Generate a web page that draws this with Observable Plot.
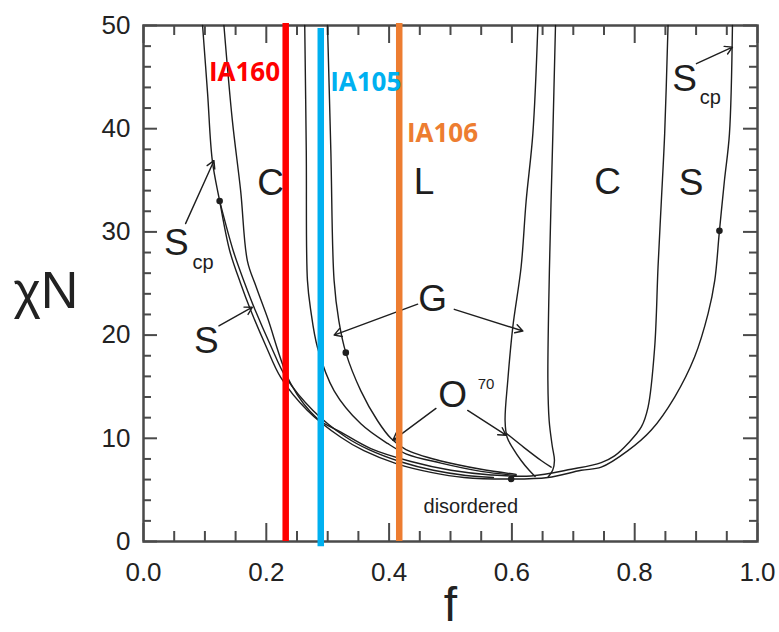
<!DOCTYPE html>
<html><head><meta charset="utf-8">
<script src="https://cdn.jsdelivr.net/npm/d3@7"></script>
<script src="https://cdn.jsdelivr.net/npm/@observablehq/plot@0.6"></script>
<style>body{margin:0;background:#fff} #chart svg{display:block}</style>
</head><body><div id="chart"></div>
<script>
// Phase boundaries, [f, chiN]
const odt = [[0.0962,50],[0.1044,43.4],[0.1121,36.9],[0.124,33.0],[0.1403,28.2],[0.1582,25.0],[0.1746,22.4],[0.199,19.0],[0.2235,15.9],[0.267,12.7],[0.3214,10.1],[0.3589,8.8],[0.4139,7.5],[0.4682,6.7],[0.522,6.2],[0.5987,6.05],[0.6586,6.2],[0.7129,6.9],[0.7455,7.2],[0.789,8.8],[0.8271,10.8],[0.8651,14.0],[0.8977,17.9],[0.9196,22.1],[0.9304,25.3],[0.938,30.1],[0.9462,35.0],[0.9543,39.5],[0.9592,50]];
const scpS = [[0.124,33.0],[0.146,28.2],[0.165,25.0],[0.182,22.4],[0.207,19.0],[0.232,15.9],[0.276,12.7],[0.330,10.1],[0.367,8.9],[0.420,7.7],[0.472,6.9],[0.525,6.4],[0.57,6.2]];
const sC = [[0.131,50],[0.1447,40.8],[0.1582,34.0],[0.1692,27.2],[0.1827,24.8],[0.2018,21.7],[0.2398,15.3],[0.2834,11.9],[0.3214,10.6],[0.3703,9.0],[0.4356,7.75],[0.5008,6.9],[0.566,6.45],[0.6313,6.35],[0.6966,7.0],[0.7455,7.65],[0.7672,8.3],[0.789,9.5],[0.8108,11.1],[0.8217,13.0],[0.8325,18.8],[0.838,26.6],[0.8434,33.0],[0.8488,39.5],[0.8543,50]];
const cGLeft = [[0.2626,50],[0.2651,37.9],[0.267,25.3],[0.2724,22.4],[0.2834,18.8],[0.3105,14.6],[0.354,11.4],[0.3975,9.5],[0.4274,8.5],[0.4845,7.6],[0.5498,6.8],[0.6069,6.4]];
const gLLeft = [[0.2997,50],[0.3051,37.9],[0.3104,25.3],[0.3181,21.4],[0.3295,18.3],[0.354,14.6],[0.3812,11.7],[0.4029,10.0],[0.4274,8.9],[0.4845,7.8],[0.5498,7.0],[0.6069,6.5]];
const lGRight = [[0.6423,50],[0.6341,39.5],[0.6232,33.0],[0.615,26.6],[0.6015,20.8],[0.5933,15.6],[0.5889,11.7],[0.5922,10.1],[0.602,9.0],[0.615,7.85],[0.6281,6.9],[0.6378,6.3]];
const o70Right = [[0.5905,10.5],[0.6199,9.1],[0.6476,7.85],[0.6639,7.2]];
const gCRight = [[0.671,50],[0.6667,39.5],[0.6612,26.6],[0.6586,15.6],[0.6607,11.7],[0.6656,9.3],[0.6693,7.85],[0.6664,6.9],[0.659,6.25]];

const boundaries = [["ODT",odt],["Scp|S",scpS],["S|C",sC],["C|G left",cGLeft],["G|L left",gLLeft],["L|G right",lGRight],["O70 right",o70Right],["G|C right",gCRight]];
const lineData = boundaries.flatMap(([name, pts]) => pts.map(([f, chi]) => ({name, f, chi})));

// marked points
const dotF = [0.124, 0.3295, 0.5987, 0.938];
const dotChi = [33.0, 18.3, 6.05, 30.1];

// samples (vertical lines)
const sampleNames = ["IA160","IA105","IA106"];
const sampleF = [0.2316, 0.2887, 0.4165];
const sampleBottom = [0, -0.5, 0];
const sampleTop = [50.2, 49.7, 50.2];
const sampleLabelF = [0.1065, 0.304, 0.429];
const sampleLabelChi = [45.4, 44.5, 39.5];
const sampleColors = ["#FF0000","#00B0F0","#ED7D31"];

// phase labels
const phaseText = ["C","L","C","S","S","S","S","G","O"];
const phaseF = [0.207,0.457,0.756,0.892,0.1025,0.0535,0.8814,0.471,0.5036];
const phaseChi = [34.7,34.8,34.8,34.7,19.4,28.9,44.8,23.5,14.2];
const subText = ["cp","cp"];
const subF = [0.097,0.923];
const subChi = [27.0,43.0];
const supText = ["70"];
const supF = [0.558];
const supChi = [15.2];
const disText = ["disordered"];
const disF = [0.533];
const disChi = [3.4];

// arrows [f1, chi1, f2, chi2]
const arrowList = [[0.0685,30.8,0.1147,36.9],[0.1228,20.9,0.1773,22.7],[0.4465,23.0,0.3104,20.0],[0.5062,22.5,0.6178,20.4],[0.4763,12.9,0.4062,9.8],[0.528,12.7,0.5905,10.3],[0.9005,46.3,0.9592,47.9]];

// ticks
const xMajor = [0,0.2,0.4,0.6,0.8,1.0];
const xMinor = [0.05,0.1,0.15,0.25,0.3,0.35,0.45,0.5,0.55,0.65,0.7,0.75,0.85,0.9,0.95];
const yMajor = [0,10,20,30,40,50];
const yMinor = [2,4,6,8,12,14,16,18,22,24,26,28,32,34,36,38,42,44,46,48];

const W = 779, H = 632, mL = 143, mR = 22, mT = 25, mB = 91;
const fw = W - mL - mR, fh = H - mT - mB;

const samples = sampleNames.map((name, i) => ({name, f: sampleF[i], y1: sampleBottom[i], y2: sampleTop[i], lf: sampleLabelF[i], lc: sampleLabelChi[i], color: sampleColors[i]}));
const phases = phaseText.map((t, i) => ({t, f: phaseF[i], chi: phaseChi[i]}));
const subs = subText.map((t, i) => ({t, f: subF[i], chi: subChi[i]}));
const sups = supText.map((t, i) => ({t, f: supF[i], chi: supChi[i]}));
const dis = disText.map((t, i) => ({t, f: disF[i], chi: disChi[i]}));
const dots = dotF.map((f, i) => ({f, chi: dotChi[i]}));
const arrows = arrowList.map(([a, b, c, d]) => ({x1: a, y1: b, x2: c, y2: d}));

const ink = "#1e1e1e";
const axisInk = "#4a4a4a";
const sans = "'Liberation Sans', Arial, Helvetica, sans-serif";

const chart = Plot.plot({
  width: W, height: H,
  marginLeft: mL, marginRight: mR, marginTop: mT, marginBottom: mB,
  style: {fontFamily: sans, background: "#fff", overflow: "visible"},
  x: {domain: [0, 1]},
  y: {domain: [0, 50]},
  color: {type: "identity"},
  marks: [
    Plot.axisX({ticks: xMajor, tickSize: 0, tickPadding: 21, tickFormat: d => d.toFixed(1), fontSize: 26, fill: "#222", label: null}),
    Plot.axisY({ticks: yMajor, tickSize: 0, tickPadding: 13, fontSize: 26, fill: "#222", label: null}),
    Plot.tickX(xMajor, {x: d => d, insetTop: fh - 18, stroke: axisInk, strokeWidth: 2}),
    Plot.tickX(xMajor, {x: d => d, insetBottom: fh - 18, stroke: axisInk, strokeWidth: 2}),
    Plot.tickX(xMinor, {x: d => d, insetTop: fh - 10, stroke: axisInk, strokeWidth: 2}),
    Plot.tickX(xMinor, {x: d => d, insetBottom: fh - 10, stroke: axisInk, strokeWidth: 2}),
    Plot.tickY(yMajor, {y: d => d, insetRight: fw - 14, stroke: axisInk, strokeWidth: 2}),
    Plot.tickY(yMajor, {y: d => d, insetLeft: fw - 14, stroke: axisInk, strokeWidth: 2}),
    Plot.tickY(yMinor, {y: d => d, insetRight: fw - 8, stroke: axisInk, strokeWidth: 2}),
    Plot.tickY(yMinor, {y: d => d, insetLeft: fw - 8, stroke: axisInk, strokeWidth: 2}),
    Plot.frame({stroke: axisInk, strokeWidth: 2.5}),
    Plot.line(lineData, {x: "f", y: "chi", z: "name", curve: "catmull-rom", stroke: ink, strokeWidth: 1.4}),
    Plot.dot(dots, {x: "f", y: "chi", r: 3.3, fill: ink, stroke: null}),
    Plot.arrow(arrows, {x1: "x1", y1: "y1", x2: "x2", y2: "y2", stroke: ink, strokeWidth: 1.4, headLength: 9}),
    Plot.text(phases, {x: "f", y: "chi", text: "t", fontSize: 37, fill: ink}),
    Plot.text(subs, {x: "f", y: "chi", text: "t", fontSize: 20, fill: ink}),
    Plot.text(sups, {x: "f", y: "chi", text: "t", fontSize: 15, fill: ink}),
    Plot.text(dis, {x: "f", y: "chi", text: "t", fontSize: 20, fill: ink}),
    Plot.ruleX(samples, {x: "f", y1: "y1", y2: "y2", stroke: "color", strokeWidth: 6.5}),
    Plot.text(samples, {x: "lf", y: "lc", text: "name", fill: "color", textAnchor: "start", fontSize: 26, fontWeight: "bold", fontFamily: "'Open Sans', sans-serif"}),
    Plot.text(["χN"], {frameAnchor: "left", textAnchor: "start", dx: -130, dy: 8, text: d => d, fontSize: 52, fill: "#222"}),
    Plot.text(["f"], {frameAnchor: "bottom", dy: 79, lineAnchor: "bottom", text: d => d, fontSize: 48, fill: "#222"})
  ]
});
document.getElementById("chart").appendChild(chart);
</script>
</body></html>
